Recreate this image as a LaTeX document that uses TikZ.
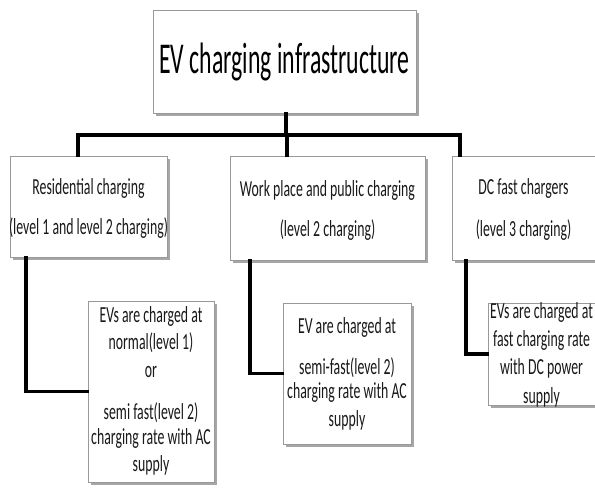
\documentclass[tikz,border=0pt]{standalone}
\usepackage{fontspec}
\setmainfont{Carlito}
\usetikzlibrary{shadows}
\newcommand{\sqz}[1]{\scalebox{0.6}[1]{#1}}
\newcommand{\sqt}[1]{\scalebox{0.54}[1]{#1}}
\tikzset{
  box/.style={draw=black!40, line width=0.8pt, fill=white, inner sep=0,
    drop shadow={shadow xshift=2.5pt, shadow yshift=-3pt, opacity=0.35, fill=black}},
  ln/.style={inner sep=0, font=\fontsize{23}{26}\selectfont, text=black!90},
  conn/.style={line width=3.6pt, black, line join=miter, line cap=rect}
}
\begin{document}
\begin{tikzpicture}[x=1pt, y=-1pt]
\useasboundingbox (0,0) rectangle (595,489);
% boxes
\node[box, minimum width=263pt, minimum height=103pt] (title) at (284.5,61.5) {};
\node[box, minimum width=157pt, minimum height=101pt] (res) at (88.5,206.5) {};
\node[box, minimum width=195pt, minimum height=104pt] (work) at (327.5,208) {};
\node[box, minimum width=143pt, minimum height=104pt] (dc) at (523.5,208) {};
\node[box, minimum width=126pt, minimum height=181pt] (b4) at (151,391.5) {};
\node[box, minimum width=128pt, minimum height=141pt] (b5) at (347,373.5) {};
\node[box, minimum width=107pt, minimum height=102pt] (b6) at (541.5,354) {};
% texts
\node[inner sep=0, font=\fontsize{44}{48}\selectfont] (tt) at (284.5,62) {\sqt{EV charging infrastructure}};
\node[ln] (r1) at (88.5,188) {\sqz{Residential charging}};
\node[ln] (r2) at (88.5,228) {\sqz{(level 1 and level 2 charging)}};
\node[ln] (w1) at (327.5,190) {\sqz{Work place and public charging}};
\node[ln] (w2) at (327.5,230) {\sqz{(level 2 charging)}};
\node[ln] (d1) at (523.5,188) {\sqz{DC fast chargers}};
\node[ln] (d2) at (523.5,230) {\sqz{(level 3 charging)}};
\node[ln] (p1) at (151,316) {\sqz{EVs are charged at}};
\node[ln] (p2) at (151,343) {\sqz{normal(level 1)}};
\node[ln] (p3) at (151,372) {\sqz{or}};
\node[ln] (p4) at (151,413) {\sqz{semi fast(level 2)}};
\node[ln] (p5) at (151,438) {\sqz{charging rate with AC}};
\node[ln] (p6) at (151,465) {\sqz{supply}};
\node[ln] (q1) at (347,327) {\sqz{EV are charged at}};
\node[ln] (q2) at (347,368) {\sqz{semi-fast(level 2)}};
\node[ln] (q3) at (347,392) {\sqz{charging rate with AC}};
\node[ln] (q4) at (347,420) {\sqz{supply}};
\node[ln] (s1) at (541.5,312) {\sqz{EVs are charged at}};
\node[ln] (s2) at (541.5,340) {\sqz{fast charging rate}};
\node[ln] (s3) at (541.5,368) {\sqz{with DC power}};
\node[ln] (s4) at (541.5,397) {\sqz{supply}};
% connector coordinates
\coordinate (j) at (286,135);
\coordinate (xr) at (78,0);
\coordinate (xw) at (287,0);
\coordinate (xd) at (460,0);
\coordinate (yr) at (26,0);
\coordinate (yw) at (250,0);
\coordinate (yd) at (466,0);
% connectors
\draw[conn] (title.south -| j) -- (j);
\draw[conn] (res.north -| xr) |- (j) -| (dc.north -| xd);
\draw[conn] (j -| xw) -- (work.north -| xw);
\draw[conn] (res.south -| yr) |- (b4.west);
\draw[conn] (work.south -| yw) |- (b5.west);
\draw[conn] (dc.south -| yd) |- (b6.west);
\end{tikzpicture}
\end{document}
